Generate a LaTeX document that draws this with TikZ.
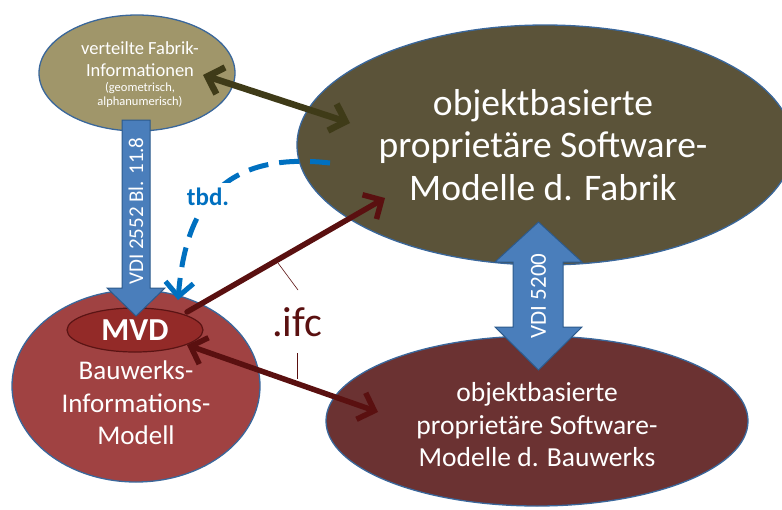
\documentclass[tikz,border=0pt]{standalone}
\usepackage{fontspec}
\setmainfont{Carlito}
\usetikzlibrary{shapes.geometric,arrows.meta}

\definecolor{khaki}{HTML}{A0966A}
\definecolor{darkolive}{HTML}{5B5339}
\definecolor{brick}{HTML}{A04242}
\definecolor{mvdred}{HTML}{932A28}
\definecolor{mvdline}{HTML}{5A1414}
\definecolor{maroon}{HTML}{6B3232}
\definecolor{rimblue}{HTML}{3A679B}
\definecolor{blockblue}{HTML}{4A7EBB}
\definecolor{blockline}{HTML}{2C5A8C}
\definecolor{dashblue}{HTML}{0070C0}
\definecolor{olivearrow}{HTML}{3F3B18}
\definecolor{ifcred}{HTML}{5A1010}

\tikzset{
  blob/.style={ellipse, draw=rimblue, line width=1.3pt, inner sep=0pt},
  txt/.style={text=white, align=center, inner sep=0pt},
  blockarrow/.style={fill=blockblue, draw=blockline, line width=1pt, line join=miter},
  barb/.style={-{Straight Barb[length=14pt,width=28pt]}, line cap=round, line join=round},
  barbs/.style={{Straight Barb[length=14pt,width=28pt]}-{Straight Barb[length=14pt,width=28pt]}, line cap=round, line join=round},
  leader/.style={draw=ifcred, line width=0.6pt},
}

\begin{document}
\begin{tikzpicture}[x=1pt,y=-1pt]
\useasboundingbox (0,0) rectangle (782,509);

% ellipses
\node[blob, fill=darkolive, minimum width=496pt, minimum height=240pt] (fab) at (545,145) {};
\node[blob, fill=maroon, minimum width=422pt, minimum height=170pt] (bau) at (537,421) {};
\node[blob, fill=khaki, minimum width=196pt, minimum height=116pt] (vfi) at (137,73) {};
\node[blob, fill=brick, minimum width=248pt, minimum height=192pt] (bim) at (136,386) {};
\node[ellipse, fill=mvdred, draw=mvdline, line width=1.2pt, minimum width=136pt, minimum height=44pt, inner sep=0pt] (mvd) at (135,330) {};

% texts in ellipses
\node[txt, font=\fontsize{37.5}{42.5}\selectfont] (fabt) at (543,145) {objektbasierte\\proprietäre Software-\\Modelle d. Fabrik};
\node[txt, font=\fontsize{27.5}{32.5}\selectfont] (baut) at (537,425) {objektbasierte\\proprietäre Software-\\Modelle d. Bauwerks};
\node[txt, font=\fontsize{18.5}{22}\selectfont] (vfit) at (140,59) {verteilte Fabrik-\\Informationen};
\node[txt, font=\fontsize{12.5}{14}\selectfont] (vfis) at (140,95) {(geometrisch,\\alphanumerisch)};
\node[txt, font=\fontsize{27}{32.5}\selectfont] (bimt) at (136,403) {Bauwerks-\\Informations-\\Modell};
\node[txt, font=\bfseries\fontsize{32}{33}\selectfont] (mvdt) at (135,330) {MVD};

% block arrow VDI 2552
\draw[blockarrow] (122,120) -- (150,120) -- (150,288) -- (165,288) -- (136,316)
  -- (107,288) -- (122,288) -- cycle;
\node[txt, rotate=90, font=\fontsize{21}{22}\selectfont] (vdi1) at (136,211) {VDI 2552 Bl. 11.8};

% double block arrow VDI 5200
\draw[blockarrow] (538.5,222) -- (582,262) -- (563,262) -- (563,327) -- (582,327)
  -- (538.5,370) -- (495,327) -- (513,327) -- (513,262) -- (495,262) -- cycle;
\node[txt, rotate=90, font=\fontsize{23}{24}\selectfont] (vdi2) at (538.5,296) {VDI 5200};

% connector end points
\coordinate (vfiE) at (203,75);
\coordinate (fabW) at (350,123);
\coordinate (mvdNE) at (187,312);
\coordinate (fabSW) at (385,198);
\coordinate (mvdE) at (187,345);
\coordinate (bauW) at (378,412);
\coordinate (fabT) at (330,163);
\coordinate (mvdN) at (178,300);

% connectors
\draw[barbs, draw=olivearrow, line width=6.5pt] (vfiE) -- (fabW);
\draw[barb, draw=ifcred, line width=5.5pt] (mvdNE) -- (fabSW);
\draw[barbs, draw=ifcred, line width=5.5pt] (mvdE) -- (bauW);
\draw[barb, draw=dashblue, line width=5pt, dash pattern=on 20pt off 11pt, line cap=butt]
  (fabT) .. controls (215,150) and (185,215) .. (mvdN);
\node[text=dashblue, fill=white, font=\bfseries\fontsize{25}{26}\selectfont, inner xsep=4pt, inner ysep=5pt] (tbd) at (208,197) {tbd.};

% .ifc callout
\node[text=ifcred, font=\fontsize{42}{44}\selectfont, inner sep=0pt] (ifc) at (297,322) {.ifc};
\coordinate (ifcA) at (278,263);
\coordinate (ifcB) at (298,290);
\coordinate (ifcC) at (297,353);
\coordinate (ifcD) at (297,379);
\draw[leader] (ifcA) -- (ifcB);
\draw[leader] (ifcC) -- (ifcD);
\end{tikzpicture}
\end{document}
